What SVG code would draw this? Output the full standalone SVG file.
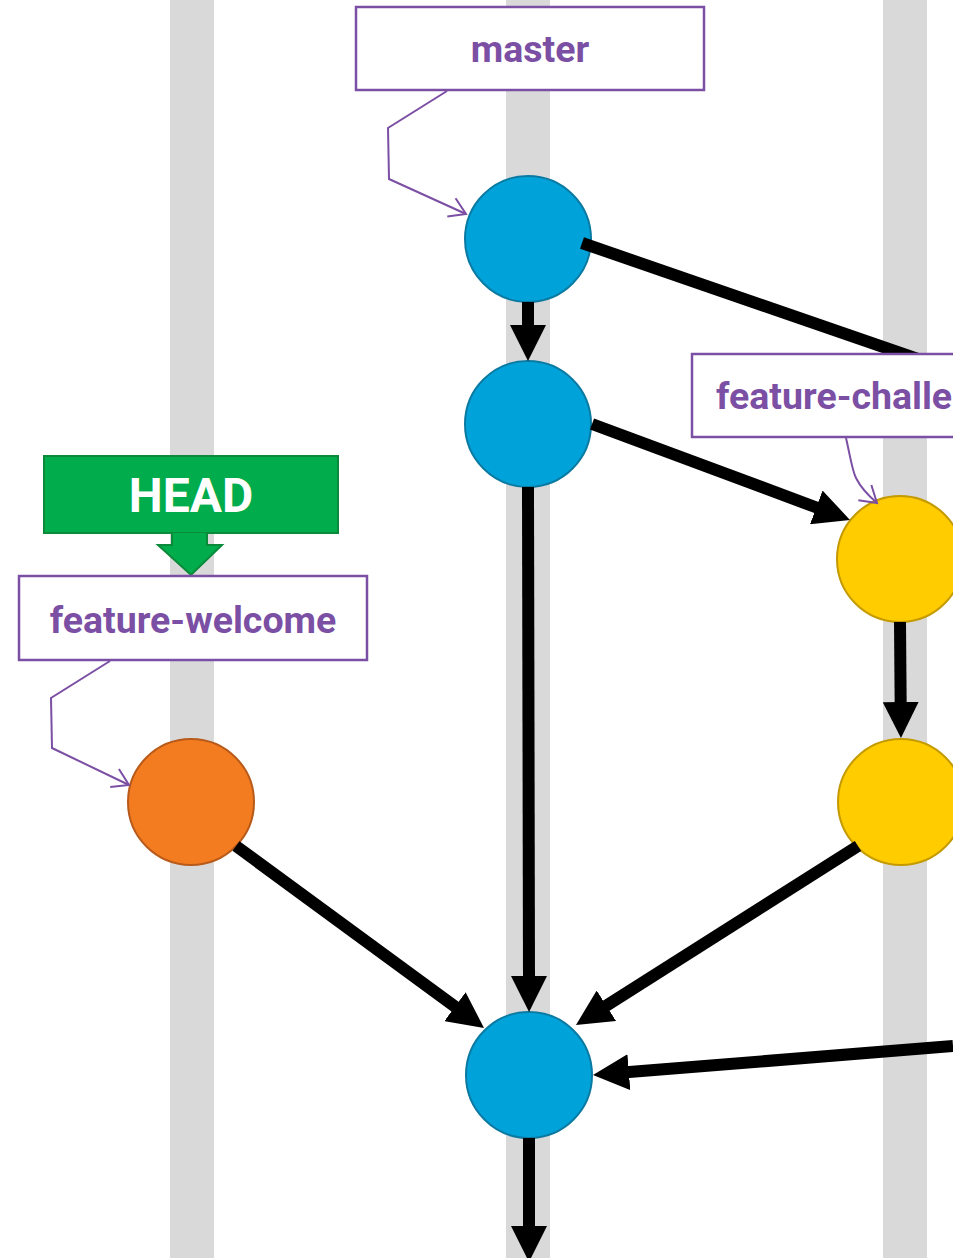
<svg xmlns="http://www.w3.org/2000/svg" width="953" height="1258" viewBox="0 0 953 1258">
  <style>
    .lane { fill: #d9d9d9; }
    .edge { stroke: #000; stroke-width: 12; fill: none; }
    .commit-blue { fill: #00a3d9; stroke: #0b7aa3; stroke-width: 2; }
    .commit-yellow { fill: #ffcc00; stroke: #c49a00; stroke-width: 2; }
    .commit-orange { fill: #f47c20; stroke: #b85a1a; stroke-width: 2; }
    .label-box { fill: #fff; stroke: #7b4fa3; stroke-width: 2.5; }
    .label-text { font-family: Roboto, "Liberation Sans", sans-serif; font-weight: bold; font-size: 37.5px; fill: #7b4fa3; }
    .pointer { stroke: #7b4fa3; stroke-width: 2; fill: none; }
    .head-text { font-family: Roboto, "Liberation Sans", sans-serif; font-weight: bold; font-size: 48px; fill: #fff; }
  </style>
  <defs>
    <!-- solid arrowhead; the line stops 6px past the base so the tip stays sharp -->
    <marker id="arrow" markerUnits="userSpaceOnUse" markerWidth="36" markerHeight="36" viewBox="0 0 36 36" refX="6" refY="18" orient="auto">
      <path d="M0,0 L36,18 L0,36 Z" fill="#000"/>
    </marker>
    <marker id="open-arrow" markerUnits="userSpaceOnUse" markerWidth="20" markerHeight="20" viewBox="0 0 20 20" refX="18" refY="10" orient="auto" overflow="visible">
      <path d="M2,0 L18,10 L2,20" fill="none" stroke="#7b4fa3" stroke-width="2"/>
    </marker>
  </defs>

  <!-- branch lanes -->
  <g id="lanes">
    <rect class="lane" x="170" y="0" width="44" height="1258"/>
    <rect class="lane" x="506" y="0" width="44" height="1258"/>
    <rect class="lane" x="883" y="0" width="44" height="1258"/>
  </g>

  <!-- commits -->
  <g id="commit-m1"><circle class="commit-blue" cx="528" cy="239" r="63"/></g>
  <g id="commit-m2"><circle class="commit-blue" cx="528" cy="424" r="63"/></g>
  <g id="commit-y1"><circle class="commit-yellow" cx="900" cy="559" r="63"/></g>
  <g id="commit-y2"><circle class="commit-yellow" cx="901" cy="802" r="63"/></g>
  <g id="commit-o1"><circle class="commit-orange" cx="191" cy="802" r="63"/></g>
  <g id="commit-m3"><circle class="commit-blue" cx="529" cy="1075" r="63"/></g>

  <!-- commit graph edges -->
  <g id="connectors">
    <line class="edge" x1="582" y1="243" x2="953" y2="371"/>
    <line class="edge" x1="528" y1="302" x2="528" y2="331" marker-end="url(#arrow)"/>
    <line class="edge" x1="592" y1="424" x2="821.9" y2="509.5" marker-end="url(#arrow)"/>
    <line class="edge" x1="900" y1="622" x2="900.7" y2="708" marker-end="url(#arrow)"/>
    <line class="edge" x1="528" y1="487" x2="529" y2="982" marker-end="url(#arrow)"/>
    <line class="edge" x1="236" y1="846" x2="459.8" y2="1010.2" marker-end="url(#arrow)"/>
    <line class="edge" x1="858" y1="846" x2="601.3" y2="1008.9" marker-end="url(#arrow)"/>
    <line class="edge" x1="953" y1="1046" x2="622.9" y2="1072.6" marker-end="url(#arrow)"/>
    <line class="edge" x1="529" y1="1138" x2="529" y2="1232" marker-end="url(#arrow)"/>
  </g>

  <!-- branch labels -->
  <g id="label-master">
    <rect class="label-box" x="356" y="7" width="348" height="83"/>
    <text class="label-text" x="530" y="62" text-anchor="middle">master</text>
    <polyline class="pointer" points="447,91 388,128 389,179 466,214" marker-end="url(#open-arrow)"/>
  </g>

  <g id="label-feature-challenge">
    <rect class="label-box" x="692" y="354" width="300" height="83"/>
    <text class="label-text" x="716" y="409">feature-challenge</text>
    <path class="pointer" d="M846,438 C850,455 852,470 856,478 C862,490 870,497 877,503" marker-end="url(#open-arrow)"/>
  </g>

  <g id="label-head">
    <rect x="44" y="456" width="294" height="77" fill="#00ac4b" stroke="#0a8a3a" stroke-width="2"/>
    <text class="head-text" x="191" y="512" text-anchor="middle">HEAD</text>
    <path d="M172,533 L172,545 L158,545 L191,575 L222,545 L207,545 L207,533" fill="#00ac4b" stroke="#0a8a3a" stroke-width="2"/>
  </g>

  <g id="label-feature-welcome">
    <rect class="label-box" x="19" y="576" width="348" height="84"/>
    <text class="label-text" x="193" y="633" text-anchor="middle">feature-welcome</text>
    <polyline class="pointer" points="110,661 51,698 52,748 129,785" marker-end="url(#open-arrow)"/>
  </g>
</svg>
